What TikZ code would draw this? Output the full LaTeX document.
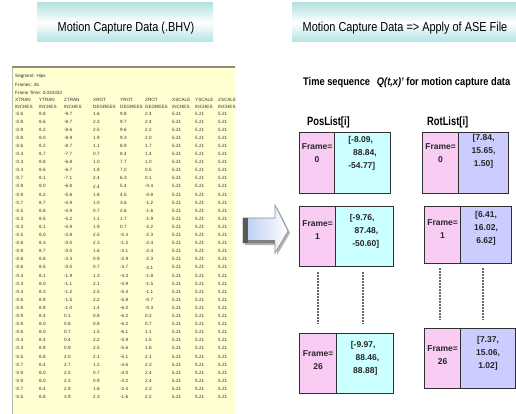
\documentclass[tikz,border=0pt]{standalone}
\usepackage{fontspec}
\setmainfont{Liberation Sans}
\usetikzlibrary{calc}
\definecolor{hdrcyan}{HTML}{B4E2E2}
\definecolor{panelyel}{HTML}{FFFFD2}
\definecolor{panelline}{HTML}{8C8C78}
\definecolor{cellpink}{HTML}{F9CCF3}
\definecolor{cellcyan}{HTML}{CCFFFF}
\definecolor{celllav}{HTML}{CCCCFF}
\definecolor{boxline}{HTML}{303030}
\definecolor{tabtext}{HTML}{303030}
\definecolor{arrowblue}{HTML}{B8CCF0}
\begin{document}
\begin{tikzpicture}[x=1pt,y=-1pt,
  /pgf/number format/fixed,/pgf/number format/precision=1,/pgf/number format/fixed zerofill,
  /pgf/number format/assume math mode=true,
  hdrtext/.style={font=\fontsize{13}{15}\selectfont, xscale=0.84, transform shape, inner sep=0},
  tab/.style={font=\fontsize{4.6}{5}\selectfont, text=tabtext, anchor=west, inner sep=0},
  cell/.style={draw=boxline, line width=1.1pt, anchor=north west, inner sep=0},
  celltext/.style={font=\fontsize{8.5}{13}\selectfont\bfseries, align=center, inner sep=0, text=black!85},
  listtitle/.style={font=\fontsize{12}{14}\selectfont\bfseries, xscale=0.78, transform shape, anchor=west, inner sep=0},
  dots/.style={draw=black!60, line width=1.6pt, dash pattern=on 1.6pt off 1.4pt}
]
\useasboundingbox (0,0) rectangle (516,414);

% ---------- headers ----------
\shade[top color=hdrcyan, bottom color=hdrcyan, middle color=white] (37,3) rectangle (213,42);
\node[hdrtext] (h1) at (126,28) {Motion Capture Data (.BHV)};
\shade[top color=hdrcyan, bottom color=hdrcyan, middle color=white] (292,3) rectangle (516,42);
\node[hdrtext] (h2) at (405,28) {Motion Capture Data => Apply of ASE File};

% ---------- left data panel ----------
\fill[panelyel] (12,67) rectangle (235,414);
\draw[panelline!60, line width=0.6pt] (12,67) -- (12,414);
\draw[panelline, line width=1.8pt] (12,67) -- (235,67);

\node[tab] (seg) at (15,76) {Segment: Hips};
\node[tab] (frm) at (15,84.5) {Frames: 26};
\node[tab] (ftm) at (15,93) {Frame Time: 0.033333};
\foreach \lab [count=\k] in {XTRAN,YTRAN,ZTRAN,XROT,YROT,ZROT,XSCALE,YSCALE,ZSCALE}{
  \pgfmathsetmacro\xx{{15,39,64,93,120,145,172,195,218}[\k-1]}
  \node[tab] (ch\k) at (\xx,100) {\lab};
}
\foreach \lab [count=\k] in {INCHES,INCHES,INCHES,DEGREES,DEGREES,DEGREES,INCHES,INCHES,INCHES}{
  \pgfmathsetmacro\xx{{15,39,64,93,120,145,172,195,218}[\k-1]}
  \node[tab] (cu\k) at (\xx,107) {\lab};
}
\foreach \i in {0,...,35}{
  \pgfmathsetmacro\yy{113.5+8.1*\i}
  \pgfmathsetmacro\ca{-0.6-0.3*sin(\i*47)}
  \pgfmathsetmacro\cb{8.4+0.45*cos(\i*61)}
  \pgfmathsetmacro\cc{-9.7+0.38*\i+0.6*sin(\i*73)}
  \pgfmathsetmacro\cd{1.6+0.9*sin(\i*53)}
  \pgfmathsetmacro\ce{8*cos(\i*7)+1.8}
  \pgfmathsetmacro\cf{2.4*cos(\i*11)}
  \node[tab] (r\i-1) at (15,\yy) {\pgfmathprintnumber{\ca}};
  \node[tab] (r\i-2) at (39,\yy) {\pgfmathprintnumber{\cb}};
  \node[tab] (r\i-3) at (64,\yy) {\pgfmathprintnumber{\cc}};
  \node[tab] (r\i-4) at (93,\yy) {\pgfmathprintnumber{\cd}};
  \node[tab] (r\i-5) at (120,\yy) {\pgfmathprintnumber{\ce}};
  \node[tab] (r\i-6) at (145,\yy) {\pgfmathprintnumber{\cf}};
  \node[tab] (r\i-7) at (172,\yy) {5.21};
  \node[tab] (r\i-8) at (195,\yy) {5.21};
  \node[tab] (r\i-9) at (218,\yy) {5.21};
}

% ---------- big hollow arrow ----------
\fill[black!30] (245,220) -- (277,220) -- (277,207) -- (290,233) -- (277,255) -- (277,245) -- (245,245) -- cycle;
\shade[left color=arrowblue, right color=white, draw=black!45, line width=0.6pt]
  (243,218) -- (275,218) -- (275,205) -- (288,231) -- (275,253) -- (275,243) -- (243,243) -- cycle;
\fill[black!65] (243,218) rectangle (248,243);
\fill[black!50] (248,240) rectangle (275,243);
\node[inner sep=0] (arrowtip) at (288,231) {};

% ---------- right side titles ----------
\node[font=\fontsize{11}{12}\selectfont\bfseries, xscale=0.845, transform shape, anchor=west, inner sep=0] (ts) at (303,83)
  {Time sequence\hspace{8pt}\textit{Q(t,x)'} for motion capture data};
\node[listtitle] (pl) at (307,122) {PosList[i]};
\node[listtitle] (rl) at (427,122) {RotList[i]};

% ---------- PosList boxes ----------
\node[cell, fill=cellpink, minimum width=35pt, minimum height=61pt] (pf0) at (299,132) {};
\node[cell, fill=cellcyan, minimum width=56pt, minimum height=61pt] (pv0) at (334,132) {};
\node[celltext] at ($(pf0.center)+(0,-10)$) {Frame=\\0};
\node[celltext, align=left] at ($(pv0.center)+(0,-10)$) {[-8.09,\\\ \ 88.84,\\-54.77]};

\node[cell, fill=cellpink, minimum width=36pt, minimum height=60pt] (pf1) at (299,206) {};
\node[cell, fill=cellcyan, minimum width=58pt, minimum height=60pt] (pv1) at (335,206) {};
\node[celltext] at ($(pf1.center)+(0,-6)$) {Frame=\\1};
\node[celltext, align=left] at ($(pv1.center)+(0,-5)$) {[-9.76,\\\ \ 87.48,\\\ -50.60]};

\node[cell, fill=cellpink, minimum width=37pt, minimum height=60pt] (pf26) at (299,333) {};
\node[cell, fill=cellcyan, minimum width=57pt, minimum height=60pt] (pv26) at (336,333) {};
\node[celltext] at ($(pf26.center)+(0,-3)$) {Frame=\\26};
\node[celltext, align=left] at ($(pv26.center)+(0,-5)$) {[-9.97,\\\ \ 88.46,\\\ 88.88]};

% ---------- RotList boxes ----------
\node[cell, fill=cellpink, minimum width=36pt, minimum height=61pt] (rf0) at (422,132) {};
\node[cell, fill=celllav, minimum width=50pt, minimum height=61pt] (rv0) at (458,132) {};
\node[celltext] at ($(rf0.center)+(0,-10)$) {Frame=\\0};
\node[celltext] at ($(rv0.center)+(0,-12)$) {[7.84,\\15.65,\\1.50]};

\node[cell, fill=cellpink, minimum width=36pt, minimum height=57pt] (rf1) at (424,206) {};
\node[cell, fill=celllav, minimum width=51pt, minimum height=57pt] (rv1) at (460,206) {};
\node[celltext] at ($(rf1.center)+(0,-6)$) {Frame=\\1};
\node[celltext] at ($(rv1.center)+(0,-7)$) {[6.41,\\16.02,\\6.62]};

\node[cell, fill=cellpink, minimum width=36pt, minimum height=60pt] (rf26) at (424,328) {};
\node[cell, fill=celllav, minimum width=55pt, minimum height=60pt] (rv26) at (460,328) {};
\node[celltext] at ($(rf26.center)+(0,-3)$) {Frame=\\26};
\node[celltext] at ($(rv26.center)+(0,-5)$) {[7.37,\\15.06,\\1.02]};

% ---------- dotted continuation lines ----------
\coordinate (da1) at (318,272); \coordinate (da2) at (318,324);
\coordinate (db1) at (363,272); \coordinate (db2) at (363,324);
\coordinate (dc1) at (440,268); \coordinate (dc2) at (440,320);
\coordinate (dd1) at (483,268); \coordinate (dd2) at (483,320);
\draw[dots] (da1) -- (da2);
\draw[dots] (db1) -- (db2);
\draw[dots] (dc1) -- (dc2);
\draw[dots] (dd1) -- (dd2);
\end{tikzpicture}
\end{document}
